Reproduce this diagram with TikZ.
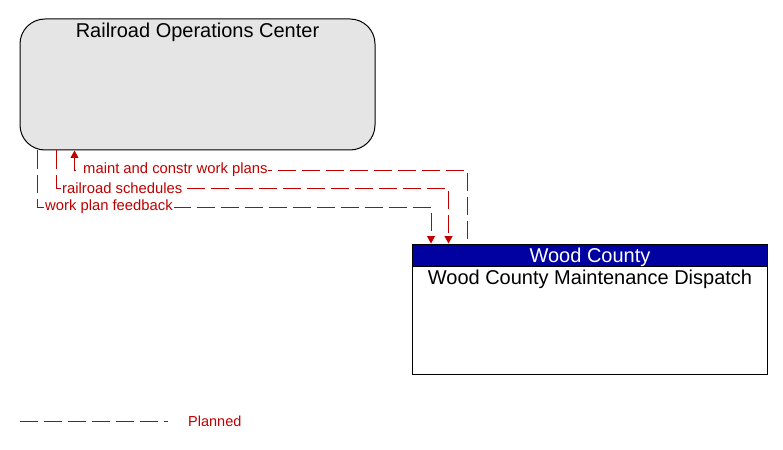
\documentclass[tikz,border=0pt]{standalone}
\usepackage{fontspec}
\setmainfont{Liberation Sans}
\usetikzlibrary{arrows.meta}
\definecolor{flow}{RGB}{192,0,0}
\definecolor{hdr}{RGB}{0,0,160}
\definecolor{boxgray}{RGB}{229,229,229}
\begin{document}
\begin{tikzpicture}[x=1pt,y=-1pt,
  bigfont/.style={font=\fontsize{20}{22}\selectfont},
  flowline/.style={draw=flow,line width=1pt,dash pattern=on 18pt off 6pt},
  flowtip/.style={-{Triangle[width=8pt,length=7.5pt]}},
  flowtipstart/.style={{Triangle[width=8pt,length=7.5pt]}-},
  flowlabel/.style={anchor=west,fill=white,inner sep=1pt,text=flow,font=\fontsize{14.8}{16}\selectfont}]
\useasboundingbox (0,0) rectangle (783,449);
% Railroad Operations Center
\node[draw=black,line width=1pt,fill=boxgray,rounded corners=25pt,minimum width=355pt,minimum height=131pt,inner sep=0pt] (roc) at (197.5,84.5) {};
\node[bigfont,inner sep=0pt] (roct) at (197.5,32) {Railroad Operations Center};
% Wood County
\node[draw=black,line width=1pt,fill=white,minimum width=355pt,minimum height=130pt,inner sep=0pt] (wc) at (590,309) {};
\node[draw=black,line width=1pt,fill=hdr,minimum width=355pt,minimum height=22.5pt,inner sep=0pt,anchor=north] (wch) at (wc.north) {};
\node[bigfont,text=white,inner sep=0pt] (wcht) at (590,257) {Wood County};
\node[bigfont,inner sep=0pt] (wct) at (590,279) {Wood County Maintenance Dispatch};
% flows
\draw[flowline,flowtipstart] ([xshift=55pt]roc.south west) -- ++(0,20) -| ([xshift=55pt]wc.north west);
\draw[flowline,flowtip] ([xshift=37pt]roc.south west) -- ++(0,38) -| ([xshift=36.5pt]wc.north west);
\draw[flowline,flowtip] ([xshift=18pt]roc.south west) -- ++(0,57) -| ([xshift=19pt]wc.north west);
\node[flowlabel] (l1) at (76,170) {\hspace*{6pt}maint and constr work plans};
\node[flowlabel] (l2) at (61,188.5) {railroad schedules};
\node[flowlabel] (l3) at (44,207) {work plan feedback};
% legend
\coordinate (lg1) at (20,421);
\coordinate (lg2) at (168,421);
\draw[flowline] (lg1) -- (lg2);
\node[anchor=west,inner sep=0pt,text=flow,font=\fontsize{14.5}{16}\selectfont] (lgt) at (188,421) {Planned};
\end{tikzpicture}
\end{document}
